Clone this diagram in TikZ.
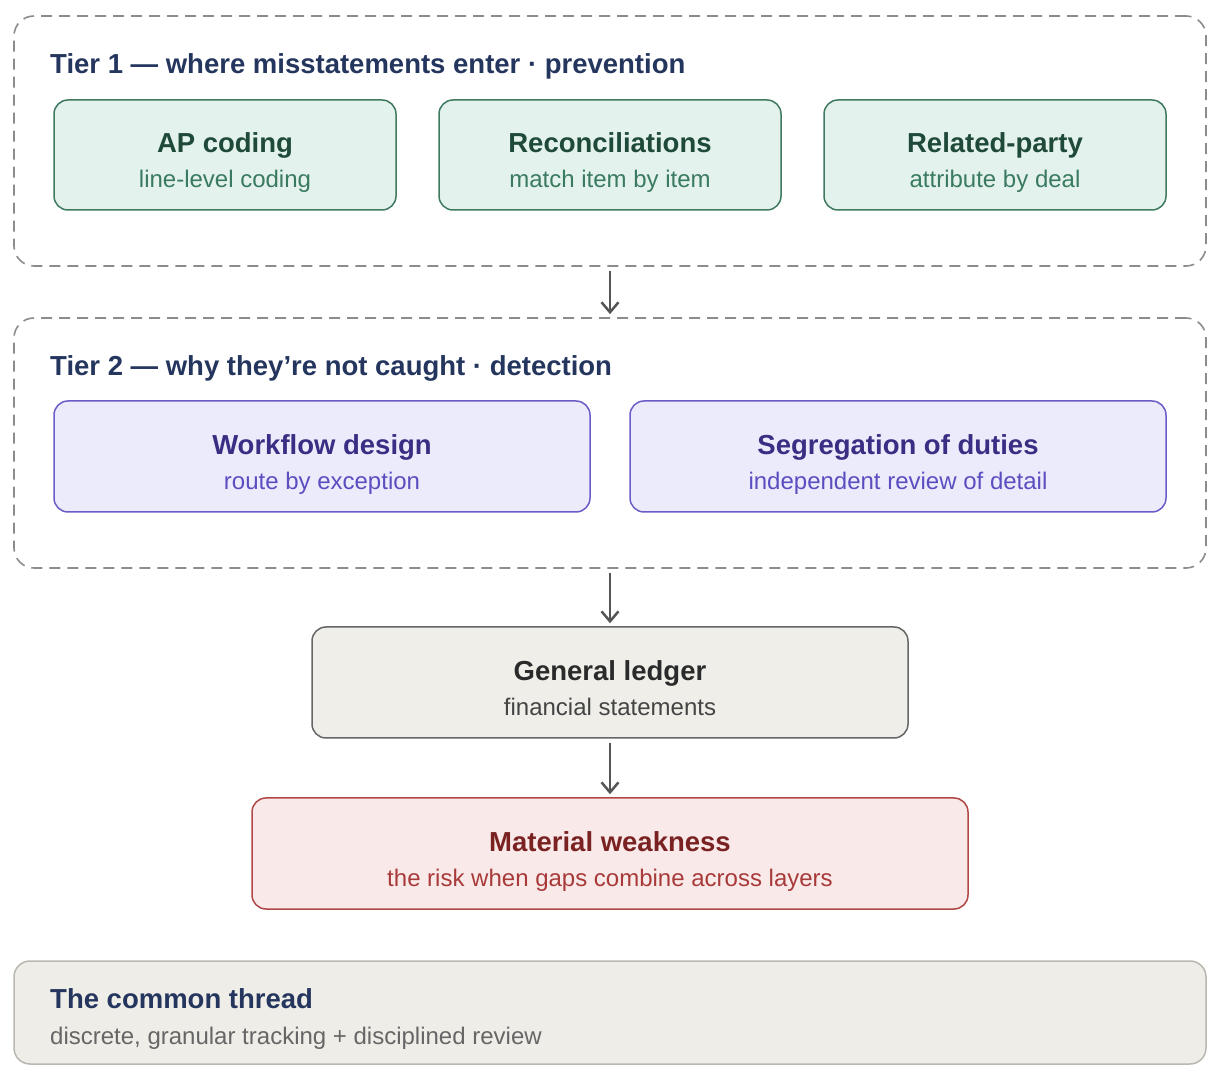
\documentclass[tikz,border=0pt]{standalone}
\usepackage{fontspec}
\setmainfont{Liberation Sans}
\usetikzlibrary{arrows.meta}
\definecolor{navy}{HTML}{25365E}
\definecolor{dashgray}{HTML}{8C8C8C}
\definecolor{grnfill}{HTML}{E3F2EC}
\definecolor{grnline}{HTML}{3F7A60}
\definecolor{grntitle}{HTML}{1F4A39}
\definecolor{grnsub}{HTML}{3A7A60}
\definecolor{purfill}{HTML}{ECEBFB}
\definecolor{purline}{HTML}{6A5CC6}
\definecolor{purtitle}{HTML}{3A2E84}
\definecolor{pursub}{HTML}{5A4EC0}
\definecolor{glfill}{HTML}{EFEEE9}
\definecolor{glline}{HTML}{666666}
\definecolor{gltitle}{HTML}{2A2A2A}
\definecolor{glsub}{HTML}{444444}
\definecolor{mwfill}{HTML}{F9E9E8}
\definecolor{mwline}{HTML}{B04848}
\definecolor{mwtitle}{HTML}{7A2222}
\definecolor{mwsub}{HTML}{A83A3A}
\definecolor{ctfill}{HTML}{EFEDE8}
\definecolor{ctline}{HTML}{BAB7B0}
\definecolor{ctsub}{HTML}{666666}
\definecolor{arrgray}{HTML}{555555}
\tikzset{
  x=1pt,y=1pt,
  tierbox/.style={draw=dashgray,line width=1.6pt,dash pattern=on 11pt off 7pt,rounded corners=20pt,minimum width=1192pt,minimum height=250pt,inner sep=0pt},
  card/.style={rounded corners=14pt,line width=1.5pt,inner sep=0pt},
  grncard/.style={card,draw=grnline,fill=grnfill,minimum width=342pt,minimum height=110pt},
  purcard/.style={card,draw=purline,fill=purfill,minimum width=536pt,minimum height=111pt},
  titletxt/.style={anchor=base,font=\fontsize{27.5}{33}\selectfont\bfseries},
  subtxt/.style={anchor=base,font=\fontsize{24}{29}\selectfont},
  tierlabel/.style={anchor=base west,font=\fontsize{27.5}{33}\selectfont\bfseries,text=navy,inner sep=0pt},
  flow/.style={draw=arrgray,line width=2.5pt,-{Straight Barb[length=10pt,width=17pt,line width=2.5pt]}}
}
\begin{document}
\begin{tikzpicture}
\useasboundingbox (0,0) rectangle (1222,1084);
% Tier boxes
\node[tierbox] (t1) at (610,943) {};
\node[tierbox] (t2) at (610,641) {};
\node[tierlabel] (t1lab) at (50,1010) {Tier 1 — where misstatements enter · prevention};
\node[tierlabel] (t2lab) at (50,708) {Tier 2 — why they’re not caught · detection};
% Tier 1 cards
\node[grncard] (ap) at (225,929) {};
\node[grncard] (rec) at (610,929) {};
\node[grncard] (rp) at (995,929) {};
\foreach \n/\t/\s in {ap/AP coding/line-level coding,rec/Reconciliations/match item by item,rp/Related-party/attribute by deal}{
  \node[titletxt,text=grntitle] (\n t) at ([yshift=2pt]\n.center) {\t};
  \node[subtxt,text=grnsub] (\n s) at ([yshift=-33pt]\n.center) {\s};
}
% Tier 2 cards
\node[purcard] (wf) at (322,627.5) {};
\node[purcard] (sd) at (898,627.5) {};
\foreach \n/\t/\s in {wf/Workflow design/route by exception,sd/Segregation of duties/independent review of detail}{
  \node[titletxt,text=purtitle] (\n t) at ([yshift=2pt]\n.center) {\t};
  \node[subtxt,text=pursub] (\n s) at ([yshift=-33pt]\n.center) {\s};
}
% General ledger
\node[card,draw=glline,fill=glfill,minimum width=596pt,minimum height=111pt] (gl) at (610,401.5) {};
\node[titletxt,text=gltitle] (glt) at ([yshift=2pt]gl.center) {General ledger};
\node[subtxt,text=glsub] (gls) at ([yshift=-33pt]gl.center) {financial statements};
% Material weakness
\node[card,draw=mwline,fill=mwfill,minimum width=716pt,minimum height=111pt] (mw) at (610,230.5) {};
\node[titletxt,text=mwtitle] (mwt) at ([yshift=2pt]mw.center) {Material weakness};
\node[subtxt,text=mwsub] (mws) at ([yshift=-33pt]mw.center) {the risk when gaps combine across layers};
% Common thread
\node[card,rounded corners=16pt,draw=ctline,fill=ctfill,minimum width=1192pt,minimum height=103pt] (ct) at (610,71.5) {};
\node[anchor=base west,inner sep=0pt,font=\fontsize{27.5}{33}\selectfont\bfseries,text=navy] (ctt) at (50,76) {The common thread};
\node[anchor=base west,inner sep=0pt,font=\fontsize{24}{29}\selectfont,text=ctsub] (cts) at (50,40) {discrete, granular tracking + disciplined review};
% Arrows
\draw[flow] ([yshift=-4pt]t1.south) -- ([yshift=3pt]t2.north);
\draw[flow] ([yshift=-4pt]t2.south) -- ([yshift=3pt]gl.north);
\draw[flow] ([yshift=-4pt]gl.south) -- ([yshift=3pt]mw.north);
\end{tikzpicture}
\end{document}
